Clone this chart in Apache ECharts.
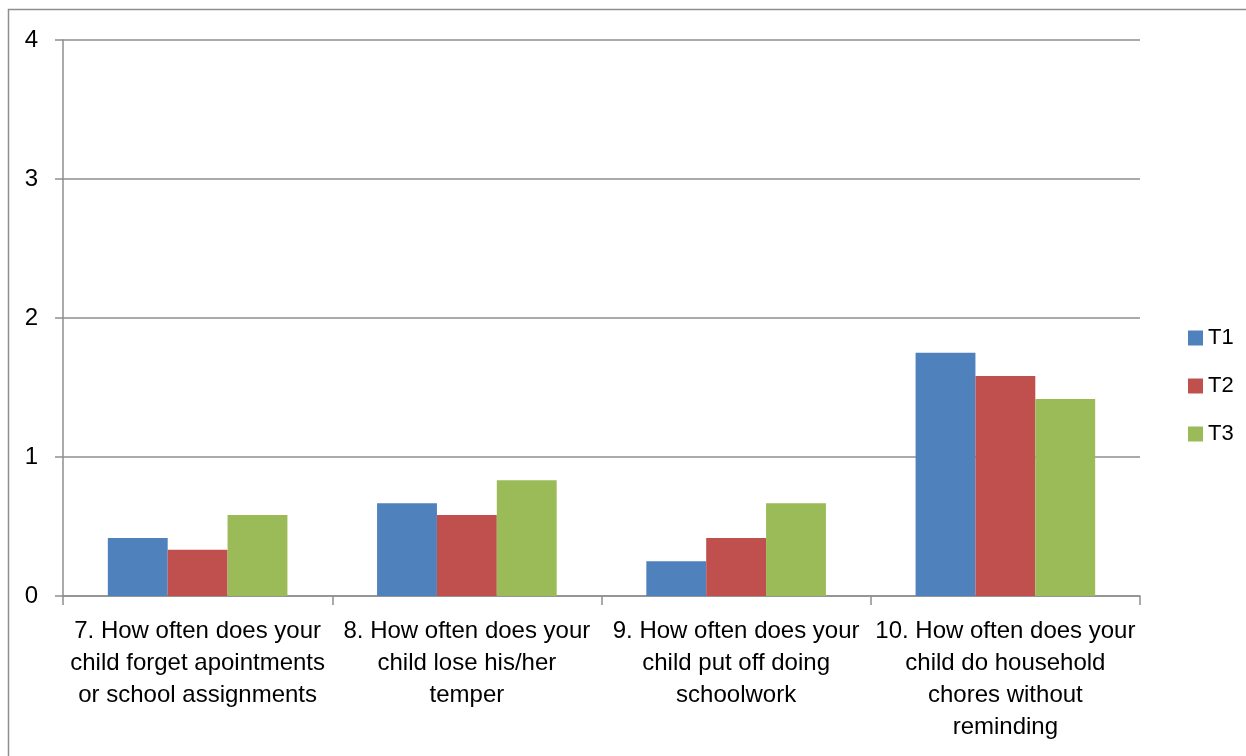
<!DOCTYPE html>
<html>
<head>
<meta charset="utf-8">
<script src="https://cdn.jsdelivr.net/npm/echarts@6/dist/echarts.min.js"></script>
<style>
  html, body { margin: 0; padding: 0; background: #fff; }
  #chart { width: 1246px; height: 756px; }
</style>
</head>
<body>
<div id="chart"></div>
<script>
const categories = [
  '7. How often does your\nchild forget apointments\nor school assignments',
  '8. How often does your\nchild lose his/her\ntemper',
  '9. How often does your\nchild put off doing\nschoolwork',
  '10. How often does your\nchild do household\nchores without\nreminding'
]
const t1 = [0.417, 0.667, 0.25, 1.75]
const t2 = [0.333, 0.583, 0.417, 1.583]
const t3 = [0.583, 0.833, 0.667, 1.417]
const yTicks = [0, 1, 2, 3, 4]

const lineGrey = '#8e8e8e'
const font = 'Liberation Sans'

const chart = echarts.init(document.getElementById('chart'), null, { renderer: 'canvas' })

chart.setOption({
  animation: false,
  textStyle: { fontFamily: font },
  graphic: [
    {
      type: 'rect',
      shape: { x: 8.5, y: 9.5, width: 1400, height: 900 },
      style: { fill: 'none', stroke: lineGrey, lineWidth: 1.5 },
      silent: true
    }
  ],
  grid: { left: 63, right: 106, top: 40, bottom: 160 },
  legend: {
    orient: 'vertical',
    left: 1183,
    top: 322,
    itemWidth: 15,
    itemHeight: 15,
    itemGap: 26,
    icon: 'rect',
    textStyle: { fontFamily: font, fontSize: 22, color: '#000' },
    data: ['T1', 'T2', 'T3']
  },
  xAxis: {
    type: 'category',
    data: categories,
    axisLine: { lineStyle: { color: lineGrey, width: 1.5 } },
    axisTick: { show: true, length: 9, lineStyle: { color: lineGrey, width: 1.5 } },
    axisLabel: {
      interval: 0,
      color: '#000',
      fontFamily: font,
      fontSize: 24,
      lineHeight: 32,
      margin: 19,
      align: 'center'
    }
  },
  yAxis: {
    type: 'value',
    min: yTicks[0],
    max: yTicks[yTicks.length - 1],
    interval: 1,
    axisLine: { show: true, lineStyle: { color: lineGrey, width: 1.5 } },
    axisTick: { show: true, length: 8, lineStyle: { color: lineGrey, width: 1.5 } },
    splitLine: { lineStyle: { color: lineGrey, width: 1.5 } },
    axisLabel: { color: '#000', fontFamily: font, fontSize: 24, margin: 25 }
  },
  series: [
    { name: 'T1', type: 'bar', data: t1, barGap: '0%', barCategoryGap: '33.3%', itemStyle: { color: '#4F81BD' } },
    { name: 'T2', type: 'bar', data: t2, barGap: '0%', barCategoryGap: '33.3%', itemStyle: { color: '#C0504D' } },
    { name: 'T3', type: 'bar', data: t3, barGap: '0%', barCategoryGap: '33.3%', itemStyle: { color: '#9BBB59' } }
  ]
})
</script>
</body>
</html>
